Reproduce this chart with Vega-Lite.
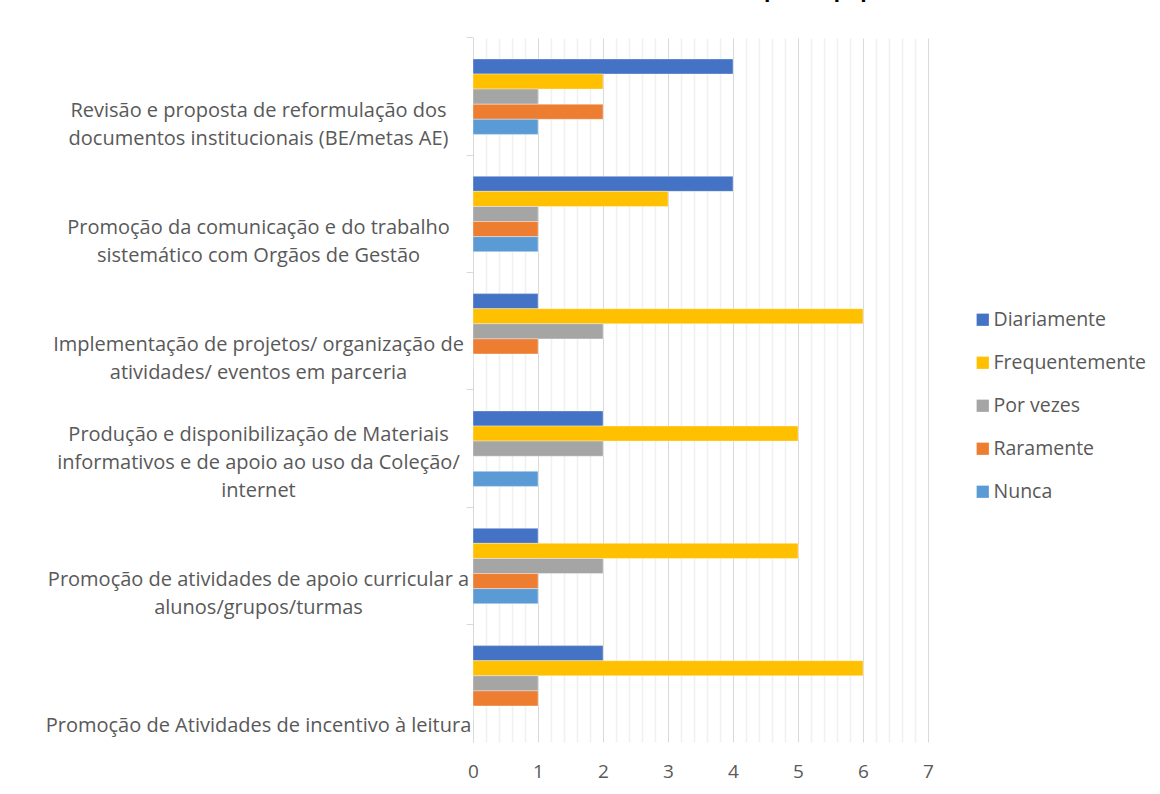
{
  "$schema": "https://vega.github.io/schema/vega-lite/v6.json",
  "width": 455,
  "height": 704,
  "autosize": {"type": "none"},
  "padding": {"left": 473, "top": 38, "right": 232, "bottom": 52},
  "background": "white",
  "title": {
    "text": "Gráfico 11 – Atividades mais desenvolvidas pela equipa da BE",
    "fontSize": 21,
    "font": "Open Sans",
    "fontWeight": "bold",
    "color": "#000000",
    "anchor": "middle",
    "frame": "group",
    "offset": 36,
    "dx": -70
  },
  "data": {
    "values": [
      {"cat": "\u00a0|Revisão e proposta de reformulação dos|documentos institucionais (BE/metas AE)", "serie": "Diariamente", "v": 4},
      {"cat": "\u00a0|Revisão e proposta de reformulação dos|documentos institucionais (BE/metas AE)", "serie": "Frequentemente", "v": 2},
      {"cat": "\u00a0|Revisão e proposta de reformulação dos|documentos institucionais (BE/metas AE)", "serie": "Por vezes", "v": 1},
      {"cat": "\u00a0|Revisão e proposta de reformulação dos|documentos institucionais (BE/metas AE)", "serie": "Raramente", "v": 2},
      {"cat": "\u00a0|Revisão e proposta de reformulação dos|documentos institucionais (BE/metas AE)", "serie": "Nunca", "v": 1},
      {"cat": "\u00a0|Promoção da comunicação e do trabalho|sistemático com Orgãos de Gestão", "serie": "Diariamente", "v": 4},
      {"cat": "\u00a0|Promoção da comunicação e do trabalho|sistemático com Orgãos de Gestão", "serie": "Frequentemente", "v": 3},
      {"cat": "\u00a0|Promoção da comunicação e do trabalho|sistemático com Orgãos de Gestão", "serie": "Por vezes", "v": 1},
      {"cat": "\u00a0|Promoção da comunicação e do trabalho|sistemático com Orgãos de Gestão", "serie": "Raramente", "v": 1},
      {"cat": "\u00a0|Promoção da comunicação e do trabalho|sistemático com Orgãos de Gestão", "serie": "Nunca", "v": 1},
      {"cat": "\u00a0|Implementação de projetos/ organização de|atividades/ eventos em parceria", "serie": "Diariamente", "v": 1},
      {"cat": "\u00a0|Implementação de projetos/ organização de|atividades/ eventos em parceria", "serie": "Frequentemente", "v": 6},
      {"cat": "\u00a0|Implementação de projetos/ organização de|atividades/ eventos em parceria", "serie": "Por vezes", "v": 2},
      {"cat": "\u00a0|Implementação de projetos/ organização de|atividades/ eventos em parceria", "serie": "Raramente", "v": 1},
      {"cat": "\u00a0|Implementação de projetos/ organização de|atividades/ eventos em parceria", "serie": "Nunca", "v": 0},
      {"cat": "Produção e disponibilização de Materiais|informativos e de apoio ao uso da Coleção/|internet", "serie": "Diariamente", "v": 2},
      {"cat": "Produção e disponibilização de Materiais|informativos e de apoio ao uso da Coleção/|internet", "serie": "Frequentemente", "v": 5},
      {"cat": "Produção e disponibilização de Materiais|informativos e de apoio ao uso da Coleção/|internet", "serie": "Por vezes", "v": 2},
      {"cat": "Produção e disponibilização de Materiais|informativos e de apoio ao uso da Coleção/|internet", "serie": "Raramente", "v": 0},
      {"cat": "Produção e disponibilização de Materiais|informativos e de apoio ao uso da Coleção/|internet", "serie": "Nunca", "v": 1},
      {"cat": "\u00a0|Promoção de atividades de apoio curricular a|alunos/grupos/turmas", "serie": "Diariamente", "v": 1},
      {"cat": "\u00a0|Promoção de atividades de apoio curricular a|alunos/grupos/turmas", "serie": "Frequentemente", "v": 5},
      {"cat": "\u00a0|Promoção de atividades de apoio curricular a|alunos/grupos/turmas", "serie": "Por vezes", "v": 2},
      {"cat": "\u00a0|Promoção de atividades de apoio curricular a|alunos/grupos/turmas", "serie": "Raramente", "v": 1},
      {"cat": "\u00a0|Promoção de atividades de apoio curricular a|alunos/grupos/turmas", "serie": "Nunca", "v": 1},
      {"cat": "Promoção de Atividades de incentivo à leitura", "serie": "Diariamente", "v": 2},
      {"cat": "Promoção de Atividades de incentivo à leitura", "serie": "Frequentemente", "v": 6},
      {"cat": "Promoção de Atividades de incentivo à leitura", "serie": "Por vezes", "v": 1},
      {"cat": "Promoção de Atividades de incentivo à leitura", "serie": "Raramente", "v": 1},
      {"cat": "Promoção de Atividades de incentivo à leitura", "serie": "Nunca", "v": 0}
    ]
  },
  "mark": {"type": "bar", "stroke": "white", "strokeWidth": 0.6, "strokeOpacity": 0.6},
  "encoding": {
    "y": {
      "field": "cat",
      "type": "nominal",
      "sort": null,
      "title": null,
      "scale": {"paddingInner": 0.1, "paddingOuter": 0.05},
      "axis": {
        "bandPosition": -0.0556,
        "labelExpr": "split(datum.value, '|')",
        "labelAlign": "center",
        "labelBaseline": "bottom",
        "labelPadding": 208,
        "labelOffset": {"condition": {"test": "indexof(datum.value, 'leitura') >= 0", "value": 53}, "value": -4},
        "labelLimit": 600,
        "labelFont": "Open Sans",
        "labelFontSize": 20,
        "labelLineHeight": 28,
        "labelColor": "#595959",
        "tickSize": 7,
        "tickColor": "#d9d9d9",
        "domainColor": "#d9d9d9",
        "grid": false
      }
    },
    "yOffset": {
      "field": "serie",
      "type": "nominal",
      "sort": ["Diariamente", "Frequentemente", "Por vezes", "Raramente", "Nunca"],
      "scale": {"paddingInner": 0, "paddingOuter": 1}
    },
    "x": {
      "field": "v",
      "type": "quantitative",
      "title": null,
      "scale": {"domain": [0, 7], "nice": false},
      "axis": {
        "values": [0, 0.2, 0.4, 0.6, 0.8, 1, 1.2, 1.4, 1.6, 1.8, 2, 2.2, 2.4, 2.6, 2.8, 3, 3.2, 3.4, 3.6, 3.8, 4, 4.2, 4.4, 4.6, 4.8, 5, 5.2, 5.4, 5.6, 5.8, 6, 6.2, 6.4, 6.6, 6.8, 7],
        "labelExpr": "abs(datum.value - round(datum.value)) < 0.001 ? format(datum.value, 'd') : ''",
        "grid": true,
        "gridColor": {"condition": {"test": "abs(datum.value - round(datum.value)) < 0.001", "value": "#d9d9d9"}, "value": "#f0f0f0"},
        "gridWidth": {"condition": {"test": "abs(datum.value - round(datum.value)) < 0.001", "value": 1}, "value": 1.5},
        "ticks": false,
        "domain": false,
        "labelPadding": 20,
        "labelFont": "Open Sans",
        "labelFontSize": 19,
        "labelColor": "#595959",
        "labelFlush": false,
        "labelOverlap": false
      }
    },
    "color": {
      "field": "serie",
      "type": "nominal",
      "sort": ["Diariamente", "Frequentemente", "Por vezes", "Raramente", "Nunca"],
      "scale": {
        "domain": ["Diariamente", "Frequentemente", "Por vezes", "Raramente", "Nunca"],
        "range": ["#4472C4", "#FFC000", "#A5A5A5", "#ED7D31", "#5B9BD5"]
      },
      "legend": {
        "title": null,
        "orient": "none",
        "legendX": 500,
        "legendY": 272,
        "symbolType": "square",
        "symbolSize": 150,
        "symbolStrokeWidth": 0,
        "labelFont": "Open Sans",
        "labelFontSize": 19.5,
        "labelColor": "#595959",
        "rowPadding": 22,
        "labelOffset": 1
      }
    }
  },
  "config": {"view": {"stroke": null}}
}
